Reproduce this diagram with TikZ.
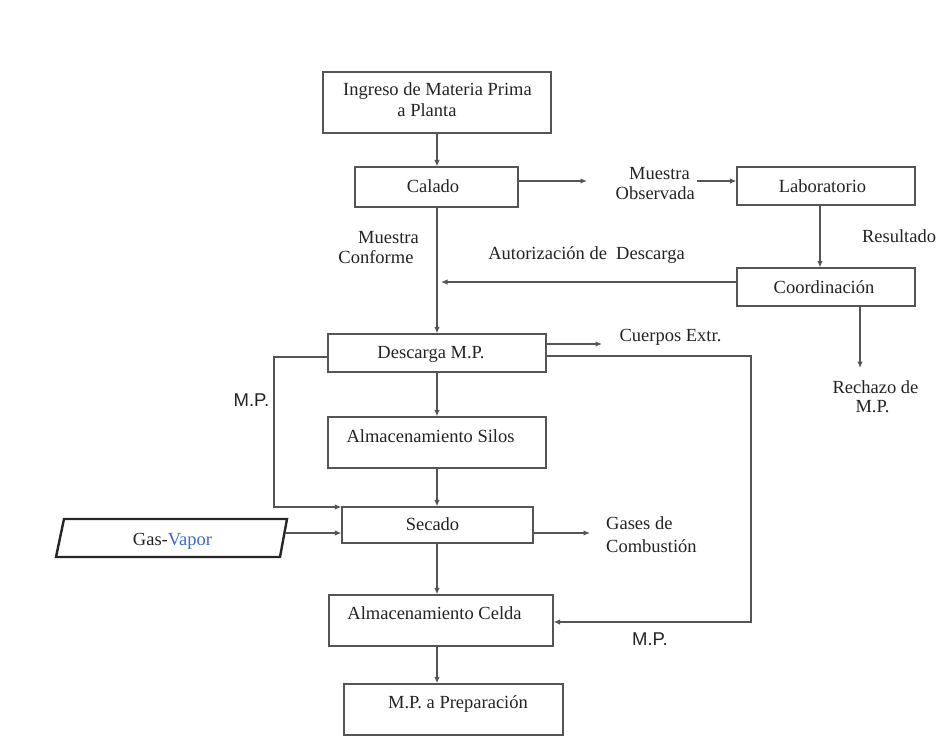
\documentclass[tikz,border=0pt]{standalone}
\usepackage{fontspec}
\setmainfont{Liberation Serif}
\newfontfamily\sansf{Liberation Sans}
\usetikzlibrary{arrows.meta}
\definecolor{linec}{RGB}{85,85,85}
\definecolor{txtc}{RGB}{35,35,35}
\definecolor{vaporblue}{RGB}{60,105,205}
\newcommand\fsz{\fontsize{18.5pt}{21pt}\selectfont}
\begin{document}
\begin{tikzpicture}[x=1pt,y=-1pt,
  box/.style={draw=linec, line width=1.2pt, inner sep=0pt, font=\fsz, text=txtc,
              text height=12.5pt, text depth=4pt},
  txt/.style={inner sep=0pt, font=\fsz, text=txtc, text height=12.5pt, text depth=4pt, yshift=-2pt},
  stxt/.style={txt, font=\fsz\sansf},
  arr/.style={draw=linec, line width=1.2pt, -{Latex[length=6.5pt,width=5.5pt]}},
  ln/.style={draw=linec, line width=1.2pt}]
\useasboundingbox (0,0) rectangle (939,736);

% boxes
\node[box, minimum width=228, minimum height=61] (ingreso) at (437,102.5) {};
\node[txt] (ingresot1) at (437.5,89) {Ingreso de Materia Prima};
\node[txt] (ingresot2) at (427,110) {a Planta};
\node[box, minimum width=163, minimum height=40] (calado) at (436.5,187) {};
\node[txt] (caladot) at (433,186) {Calado};
\node[box, minimum width=178, minimum height=38] (lab) at (826,186) {};
\node[txt] (labt) at (822.5,186) {Laboratorio};
\node[box, minimum width=178, minimum height=38] (coord) at (826,287) {};
\node[txt] (coordt) at (824,287) {Coordinación};
\node[box, minimum width=218, minimum height=38] (descarga) at (437,353) {};
\node[txt] (descargat) at (431,352) {Descarga M.P.};
\node[box, minimum width=218, minimum height=51] (silos) at (437,442.5) {};
\node[txt] (silost) at (430.5,436) {Almacenamiento Silos};
\node[box, minimum width=191, minimum height=36] (secado) at (437.5,525) {};
\node[txt] (secadot) at (432.5,524) {Secado};
\node[box, minimum width=224, minimum height=51] (celda) at (441,620.5) {};
\node[txt] (celdat) at (434.5,613) {Almacenamiento Celda};
\node[box, minimum width=219, minimum height=51] (prep) at (453.5,709.5) {};
\node[txt] (prept) at (458,702) {M.P. a Preparación};

% Gas-Vapor parallelogram
\coordinate (g1) at (64,519);
\coordinate (g2) at (287,519);
\coordinate (g3) at (280,557);
\coordinate (g4) at (56,557);
\draw[line width=2.4pt, draw=black!85, line join=miter] (g1) -- (g2) -- (g3) -- (g4) -- cycle;
\node[txt] (gast) at (172.5,539) {Gas-\textcolor{vaporblue}{Vapor}};

% labels
\node[txt, anchor=east] (mo1t) at (690,173) {Muestra};
\node[txt, anchor=east] (mo2t) at (695,193) {Observada};
\node[txt] (resul) at (899,236) {Resultado};
\node[txt] (mc1) at (388.5,237) {Muestra};
\node[txt] (mc2) at (376,257) {Conforme};
\node[txt] (autor) at (586.5,253) {Autorización de\ \ Descarga};
\node[txt] (cuerpos) at (670.5,335) {Cuerpos Extr.};
\node[txt] (rech1) at (875.5,387) {Rechazo de};
\node[txt] (rech2) at (872.5,406) {M.P.};
\node[stxt] (mpl) at (251.5,400) {M.P.};
\node[txt, anchor=west] (gases1) at (606,523) {Gases de};
\node[txt, anchor=west] (gases2) at (606,546) {Combustión};
\node[stxt] (mpr) at (650,639) {M.P.};

% helper coordinates
\coordinate (mo1) at (587,181);
\coordinate (mo2) at (697,181);
\coordinate (labx) at (820,236);
\coordinate (au) at (441,282);
\coordinate (re) at (860,368);
\coordinate (cu) at (602,344);
\coordinate (l1) at (274,357);
\coordinate (l2) at (274,507);
\coordinate (r1) at (751,356);
\coordinate (r2) at (751,622);
\coordinate (gasout) at (284.5,533);
\coordinate (ga) at (590,533);
\coordinate (mx) at (437,400);

% connectors
\draw[arr] (ingreso.south -| mx) -- (calado.north -| mx);
\draw[arr] (calado.east |- mo1) -- (mo1);
\draw[arr] (mo2) -- (lab.west |- mo2);
\draw[arr] (lab.south -| labx) -- (coord.north -| labx);
\draw[arr] (coord.west |- au) -- (au);
\draw[arr] (coord.south -| re) -- (re);
\draw[arr] (calado.south -| mx) -- (descarga.north -| mx);
\draw[arr] (descarga.east |- cu) -- (cu);
\draw[arr] (descarga.east |- r1) -- (r1) -- (r2) -- (celda.east |- r2);
\draw[arr] (descarga.west |- l1) -- (l1) -- (l2) -- (secado.west |- l2);
\draw[arr] (descarga.south -| mx) -- (silos.north -| mx);
\draw[arr] (silos.south -| mx) -- (secado.north -| mx);
\draw[arr] (gasout) -- (secado.west |- gasout);
\draw[arr] (secado.east |- ga) -- (ga);
\draw[arr] (secado.south -| mx) -- (celda.north -| mx);
\draw[arr] (celda.south -| mx) -- (prep.north -| mx);
\end{tikzpicture}
\end{document}
